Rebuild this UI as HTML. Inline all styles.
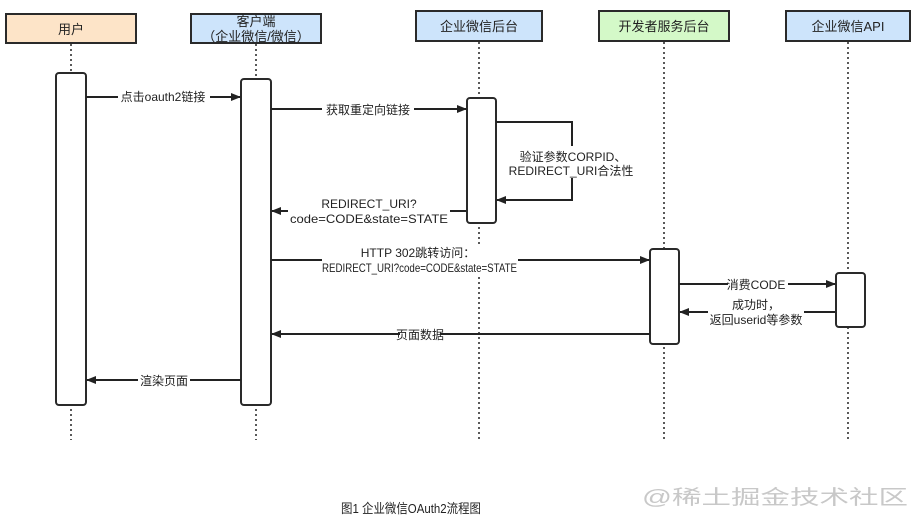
<!DOCTYPE html>
<html><head><meta charset="utf-8"><style>
body{margin:0;background:#fff;}
svg text{font-family:"Liberation Sans","Noto Sans CJK SC",sans-serif;font-size:12px;fill:#222;}
</style></head><body>
<svg width="916" height="523" viewBox="0 0 916 523" xmlns="http://www.w3.org/2000/svg">
<defs><marker id="a" markerWidth="10" markerHeight="8" refX="9" refY="4" orient="auto" markerUnits="userSpaceOnUse"><path d="M0,0 L10,4 L0,8 Z" fill="#222"/></marker></defs>
<g stroke="#222" stroke-width="1.5" stroke-dasharray="2,3">
<line x1="71" y1="44" x2="71" y2="440"/><line x1="256" y1="44" x2="256" y2="440"/>
<line x1="479" y1="42" x2="479" y2="440"/><line x1="664" y1="42" x2="664" y2="440"/><line x1="848" y1="42" x2="848" y2="440"/>
</g>
<g stroke="#2a2a2a" stroke-width="2">
<rect x="6" y="14" width="130" height="29" fill="#fde4c8"/>
<rect x="191" y="14" width="130" height="29" fill="#cde4fb"/>
<rect x="416" y="11" width="126" height="30" fill="#cde4fb"/>
<rect x="599" y="11" width="130" height="30" fill="#d4f9c8"/>
<rect x="786" y="11" width="124" height="30" fill="#cde4fb"/>
<rect x="56" y="73" width="30" height="332" rx="3" fill="#fff"/>
<rect x="241" y="79" width="30" height="326" rx="3" fill="#fff"/>
<rect x="467" y="98" width="29" height="125" rx="3" fill="#fff"/>
<rect x="650" y="249" width="29" height="95" rx="3" fill="#fff"/>
<rect x="836" y="273" width="29" height="54" rx="3" fill="#fff"/>
</g>
<g>
<text x="71" y="34" text-anchor="middle" style="font-size:13px">用户</text>
<text x="256" y="26" text-anchor="middle" style="font-size:13px">客户端</text>
<text x="256" y="41" text-anchor="middle" style="font-size:13px">（企业微信/微信）</text>
<text x="479" y="31" text-anchor="middle" style="font-size:13px">企业微信后台</text>
<text x="664" y="31" text-anchor="middle" style="font-size:13px">开发者服务后台</text>
<text x="848" y="31" text-anchor="middle" style="font-size:13px">企业微信API</text>
</g>
<g stroke="#222" stroke-width="2" fill="none" marker-end="url(#a)">
<line x1="86" y1="97" x2="240" y2="97"/>
<line x1="271" y1="109" x2="466" y2="109"/>
<path d="M496,122 H572 V200 H497"/>
<line x1="466" y1="211" x2="272" y2="211"/>
<line x1="271" y1="260" x2="649" y2="260"/>
<line x1="679" y1="284" x2="835" y2="284"/>
<line x1="835" y1="312" x2="680" y2="312"/>
<line x1="650" y1="334" x2="272" y2="334"/>
<line x1="241" y1="380" x2="87" y2="380"/>
</g>
<g>
<rect x="118" y="89" width="92" height="15" fill="#fff"/><text x="163" y="101" text-anchor="middle">点击oauth2链接</text>
<rect x="322" y="101" width="92" height="15" fill="#fff"/><text x="368" y="114" text-anchor="middle">获取重定向链接</text>
<rect x="512" y="146" width="120" height="32" fill="#fff"/>
<text x="573" y="161" text-anchor="middle">验证参数CORPID、</text>
<text x="571" y="175" text-anchor="middle">REDIRECT_URI合法性</text>
<rect x="288" y="196" width="162" height="30" fill="#fff"/>
<text x="369" y="208" text-anchor="middle">REDIRECT_URI?</text>
<text x="290" y="223" textLength="158" lengthAdjust="spacingAndGlyphs">code=CODE&amp;state=STATE</text>
<rect x="322" y="245" width="196" height="30" fill="#fff"/>
<text x="418" y="257" text-anchor="middle">HTTP 302跳转访问：</text>
<text x="322" y="272" textLength="195" lengthAdjust="spacingAndGlyphs">REDIRECT_URI?code=CODE&amp;state=STATE</text>
<rect x="728" y="277" width="60" height="15" fill="#fff"/><text x="756" y="289" text-anchor="middle">消费CODE</text>
<rect x="708" y="297" width="96" height="30" fill="#fff"/>
<text x="756" y="309" text-anchor="middle">成功时，</text>
<text x="756" y="324" text-anchor="middle">返回userid等参数</text>
<rect x="400" y="327" width="40" height="15" fill="#fff"/><text x="420" y="339" text-anchor="middle">页面数据</text>
<rect x="138" y="373" width="52" height="15" fill="#fff"/><text x="164" y="385" text-anchor="middle">渲染页面</text>
<text x="341" y="513" textLength="140" lengthAdjust="spacingAndGlyphs" style="font-size:13px">图1 企业微信OAuth2流程图</text>
<text x="642" y="504" textLength="266" lengthAdjust="spacingAndGlyphs" style="font-size:20px;fill:#c8c8c8">@稀土掘金技术社区</text>
</g>
</svg>
</body></html>
